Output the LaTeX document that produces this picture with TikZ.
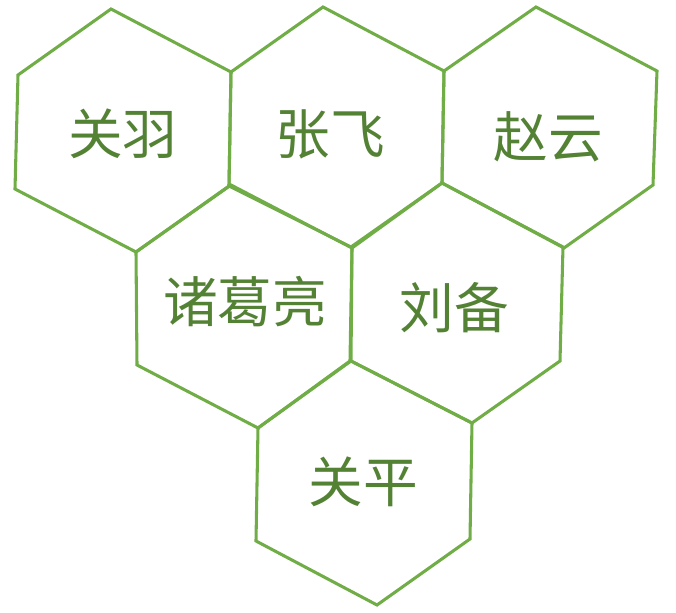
\documentclass[tikz,border=0pt]{standalone}
\usepackage{fontspec}
\newfontfamily\cjkfont{Noto Sans CJK SC}
\definecolor{hexgreen}{HTML}{70AD47}
\definecolor{txtgreen}{HTML}{548235}
\tikzset{
  hexline/.style={draw=hexgreen, line width=2.3pt, line join=miter},
  lbl/.style={text=txtgreen, font=\cjkfont\fontsize{41}{41}\selectfont, inner sep=0pt},
}
\begin{document}
\begin{tikzpicture}[x=0.75pt,y=-0.75pt]
\useasboundingbox (0,0) rectangle (676,613);
% hexagon 1
\draw[hexline] (111,9) -- (231,72) -- (229,186) -- (136,252) -- (15,189) -- (18,75) -- cycle;
% hexagon 2
\draw[hexline] (323,7) -- (444,71) -- (442,183) -- (351,247) -- (229,186) -- (231,72) -- cycle;
% hexagon 3
\draw[hexline] (536,7) -- (657,71) -- (653,185) -- (564,248) -- (442,183) -- (444,71) -- cycle;
% hexagon 4
\draw[hexline] (231,185) -- (352,248) -- (350,361) -- (258,428) -- (137,365) -- (136,252) -- cycle;
% hexagon 5
\draw[hexline] (442,183) -- (563,247) -- (560,361) -- (472,423) -- (351,361) -- (352,248) -- cycle;
% hexagon 6
\draw[hexline] (351,361) -- (472,423) -- (470,539) -- (377,605) -- (256,541) -- (258,428) -- cycle;
% labels
\node[lbl] (guanyu) at (123,134) {关羽};
\node[lbl] (zhangfei) at (330,134) {张飞};
\node[lbl] (zhaoyun) at (548,137) {赵云};
\node[lbl] (zhuge) at (245,302) {诸葛亮};
\node[lbl] (liubei) at (454,308) {刘备};
\node[lbl] (guanping) at (363,482) {关平};
\end{tikzpicture}
\end{document}
